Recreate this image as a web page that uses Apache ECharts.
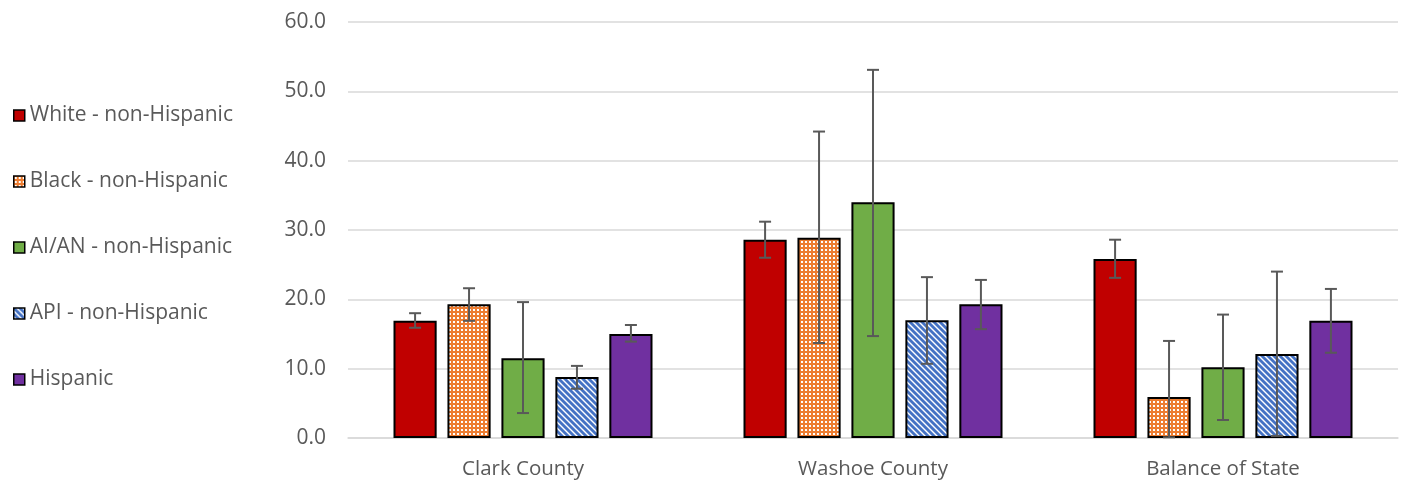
<!DOCTYPE html>
<html><head><meta charset="utf-8">
<script src="https://cdn.jsdelivr.net/npm/echarts@6/dist/echarts.min.js"></script>
<style>html,body{margin:0;padding:0;background:#fff}#c{width:1409px;height:481px}</style>
</head><body><div id="c"></div>
<script>
const categories = ['Clark County', 'Washoe County', 'Balance of State'];
const seriesNames = ['White - non-Hispanic', 'Black - non-Hispanic', 'AI/AN - non-Hispanic', 'API - non-Hispanic', 'Hispanic'];
const white = [16.9, 28.6, 25.8];
const black = [19.3, 28.9, 5.9];
const aian = [11.5, 34.0, 10.2];
const api = [8.8, 17.0, 12.1];
const hispanic = [15.0, 19.3, 16.9];
const whiteLow = [15.9, 26.0, 23.1], whiteHigh = [18.0, 31.2, 28.6];
const blackLow = [16.9, 13.7, 0.1], blackHigh = [21.6, 44.2, 14.0];
const aianLow = [3.6, 14.7, 2.6], aianHigh = [19.6, 53.1, 17.8];
const apiLow = [7.1, 10.7, 0.3], apiHigh = [10.4, 23.2, 24.0];
const hispLow = [13.9, 15.7, 12.3], hispHigh = [16.3, 22.8, 21.5];
const yTicks = [0, 10, 20, 30, 40, 50, 60];

function dotPattern() {
  const c = document.createElement('canvas'); c.width = 4; c.height = 4;
  const g = c.getContext('2d');
  g.fillStyle = '#ED7D31'; g.fillRect(0, 0, 4, 4);
  g.fillStyle = '#ffffff'; g.fillRect(1, 1, 2, 2);
  return c;
}
function stripePattern() {
  const s = 6;
  const c = document.createElement('canvas'); c.width = s; c.height = s;
  const g = c.getContext('2d');
  g.fillStyle = '#ffffff'; g.fillRect(0, 0, s, s);
  g.strokeStyle = '#4472C4'; g.lineWidth = 2.8;
  for (let k = -1; k <= 1; k++) {
    g.beginPath(); g.moveTo(k * s - 1, -1); g.lineTo(k * s + s + 1, s + 1); g.stroke();
  }
  return c;
}
const fills = [
  '#C00000',
  { image: dotPattern(), repeat: 'repeat' },
  '#70AD47',
  { image: stripePattern(), repeat: 'repeat' },
  '#7030A0'
];
const values = [white, black, aian, api, hispanic];
const lows = [whiteLow, blackLow, aianLow, apiLow, hispLow];
const highs = [whiteHigh, blackHigh, aianHigh, apiHigh, hispHigh];
const CAT_GAP = 0.26, BAR_GAP = 0.25, N = 5;

const series = [];
values.forEach((v, i) => {
  series.push({
    name: seriesNames[i], type: 'bar', data: v,
    barGap: (BAR_GAP * 100) + '%', barCategoryGap: (CAT_GAP * 100) + '%',
    itemStyle: { color: fills[i], borderColor: '#000', borderWidth: 2 },
    emphasis: { disabled: true }
  });
});
values.forEach((v, i) => {
  series.push({
    type: 'custom', name: 'err' + i, z: 10,
    data: categories.map((c, k) => [k, lows[i][k], highs[i][k]]),
    renderItem: function (params, apiR) {
      const k = apiR.value(0);
      const band = apiR.size([1, 0])[0];
      const bw = band * (1 - CAT_GAP) / (N + (N - 1) * BAR_GAP);
      const off = (i - (N - 1) / 2) * bw * (1 + BAR_GAP);
      const lo = apiR.coord([k, apiR.value(1)]);
      const hi = apiR.coord([k, apiR.value(2)]);
      const x = lo[0] + off;
      const cap = 6;
      const st = { stroke: '#595959', lineWidth: 2 };
      return { type: 'group', children: [
        { type: 'line', shape: { x1: x, y1: lo[1], x2: x, y2: hi[1] }, style: st },
        { type: 'line', shape: { x1: x - cap, y1: lo[1], x2: x + cap, y2: lo[1] }, style: st },
        { type: 'line', shape: { x1: x - cap, y1: hi[1], x2: x + cap, y2: hi[1] }, style: st }
      ]};
    }
  });
});

const chart = echarts.init(document.getElementById('c'), null, { renderer: 'canvas' });
chart.setOption({
  animation: false,
  grid: { left: 348, right: 11, top: 22, bottom: 43 },
  legend: {
    data: seriesNames, orient: 'vertical', left: 8, top: 100, itemGap: 45,
    itemWidth: 11, itemHeight: 11, icon: 'rect',
    textStyle: { color: '#595959', fontSize: 21, fontFamily: 'Open Sans' },
    itemStyle: { borderColor: '#000', borderWidth: 1.5 },
    selectedMode: false
  },
  xAxis: {
    type: 'category', data: categories,
    axisLine: { lineStyle: { color: '#d9d9d9', width: 1.5 } },
    axisTick: { show: false },
    axisLabel: { color: '#595959', fontSize: 20.5, fontFamily: 'Open Sans', margin: 21 }
  },
  yAxis: {
    type: 'value', min: 0, max: 60, interval: 10,
    axisLine: { show: false }, axisTick: { show: false },
    splitLine: { lineStyle: { color: '#d9d9d9', width: 1.5 } },
    axisLabel: { color: '#595959', fontSize: 21, fontFamily: 'Open Sans', margin: 22,
      formatter: v => yTicks.includes(v) ? v.toFixed(1) : '' }
  },
  series: series
});
</script></body></html>
